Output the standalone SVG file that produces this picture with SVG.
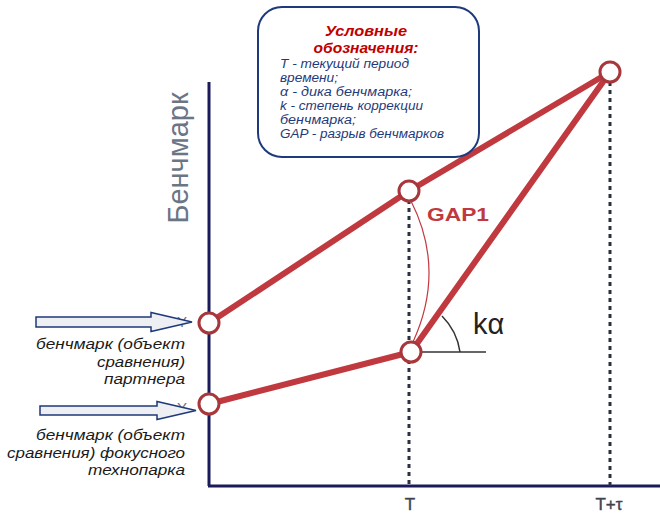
<svg xmlns="http://www.w3.org/2000/svg" width="660" height="514" viewBox="0 0 660 514">
<defs>
<style>
.axis{stroke:#1b1a5c;stroke-width:3;fill:none}
.dots{stroke:#2a3140;stroke-width:3;stroke-dasharray:4 4;fill:none}
.bm{stroke:#c0393f;stroke-width:6;fill:none;stroke-linecap:round}
.pt{fill:#fff;stroke:#a8373c;stroke-width:3}
.arr{fill:#eeeff3;stroke:#1f3a7a;stroke-width:1.5}
.lbl{font-family:"Liberation Sans",Arial,sans-serif;font-style:italic;font-size:15px;fill:#1a1a1a;text-anchor:end}
.leg{font-family:"Liberation Sans",Arial,sans-serif;font-style:italic;font-size:12px;fill:#1f3a7a}
.title{font-family:"Liberation Sans",Arial,sans-serif;font-style:italic;font-weight:bold;font-size:15px;fill:#c00000;text-anchor:middle}
.tick{font-family:"Liberation Sans",Arial,sans-serif;font-size:17px;fill:#3d4450;stroke:#3d4450;stroke-width:0.4;text-anchor:middle}
.ghost{font-family:"Liberation Sans",Arial,sans-serif;font-size:15px;fill:#6b7585}
</style>
</defs>
<rect width="660" height="514" fill="#fff"/>
<g id="axes">
<line class="axis" x1="209" y1="82" x2="209" y2="486"/>
<line class="axis" x1="208" y1="486" x2="660" y2="486"/>
<text x="0" y="0" transform="translate(188,158) rotate(-90)" font-family="Liberation Sans,Arial,sans-serif" font-size="29" fill="#6b7585" text-anchor="middle">Бенчмарк</text>
<text class="tick" x="410" y="510">T</text>
<text class="tick" x="609" y="510">T+τ</text>
<text class="ghost" x="177" y="327">Y</text>
<text class="ghost" x="177" y="413">Y</text>
</g>
<g id="connectors">
<line class="dots" x1="409" y1="200" x2="409" y2="486"/>
<line class="dots" x1="610" y1="82" x2="610" y2="486"/>
<line class="bm" x1="209" y1="323" x2="409" y2="191"/>
<line class="bm" x1="409" y1="191" x2="610" y2="72"/>
<line class="bm" x1="209" y1="404" x2="411" y2="352"/>
<line class="bm" x1="411" y1="352" x2="610" y2="72"/>
<path d="M411,201 Q446,270 413,342" fill="none" stroke="#c0393f" stroke-width="1.2"/>
<line x1="411" y1="352" x2="486" y2="352" stroke="#333" stroke-width="1.5"/>
<path d="M442,316 Q457,331 460,352" fill="none" stroke="#333" stroke-width="1.5"/>
</g>
<g id="labels">
<text x="427" y="221" font-family="Liberation Sans,Arial,sans-serif" font-weight="bold" font-size="18" fill="#c0393f" textLength="62" lengthAdjust="spacingAndGlyphs">GAP1</text>
<text x="473" y="334" font-family="Liberation Sans,Arial,sans-serif" font-size="29" fill="#222">kα</text>
</g>
<g id="p1"><circle class="pt" cx="209" cy="323" r="10"/></g>
<g id="p2"><circle class="pt" cx="209" cy="404" r="10"/></g>
<g id="p3"><circle class="pt" cx="409" cy="191" r="10"/></g>
<g id="p4"><circle class="pt" cx="411" cy="352" r="10"/></g>
<g id="p5"><circle class="pt" cx="610" cy="72" r="10"/></g>
<g id="arrow-partner">
<path class="arr" d="M36,317 H151 V312.5 L192,322 L151,331.5 V327 H36 Z"/>
<text class="lbl"><tspan x="185" y="349" textLength="149" lengthAdjust="spacingAndGlyphs">бенчмарк (объект</tspan><tspan x="185" y="366.5" textLength="88" lengthAdjust="spacingAndGlyphs">сравнения)</tspan><tspan x="185" y="384" textLength="81" lengthAdjust="spacingAndGlyphs">партнера</tspan></text>
</g>
<g id="arrow-focus">
<path class="arr" d="M40,406 H157 V401.5 L196,410.5 L157,419.5 V415 H40 Z"/>
<text class="lbl"><tspan x="185" y="440" textLength="149" lengthAdjust="spacingAndGlyphs">бенчмарк (объект</tspan><tspan x="185" y="457.5" textLength="178" lengthAdjust="spacingAndGlyphs">сравнения) фокусного</tspan><tspan x="185" y="475" textLength="97" lengthAdjust="spacingAndGlyphs">технопарка</tspan></text>
</g>
<g id="legend">
<rect x="258" y="7" width="221" height="150" rx="24" fill="#fff" stroke="#1f3a7a" stroke-width="2"/>
<text class="title"><tspan x="366" y="36" textLength="82" lengthAdjust="spacingAndGlyphs">Условные</tspan><tspan x="366" y="53" textLength="105" lengthAdjust="spacingAndGlyphs">обозначения:</tspan></text>
<text class="leg"><tspan x="280" y="67.5" textLength="129" lengthAdjust="spacingAndGlyphs">T - текущий период</tspan><tspan x="280" y="81.5" textLength="58" lengthAdjust="spacingAndGlyphs">времени;</tspan><tspan x="280" y="95.5" textLength="132" lengthAdjust="spacingAndGlyphs">α - дика бенчмарка;</tspan><tspan x="280" y="109.5" textLength="143" lengthAdjust="spacingAndGlyphs">k - степень коррекции</tspan><tspan x="280" y="123.5" textLength="76" lengthAdjust="spacingAndGlyphs">бенчмарка;</tspan><tspan x="280" y="137.5" textLength="164" lengthAdjust="spacingAndGlyphs">GAP - разрыв бенчмарков</tspan></text>
</g>
</svg>
